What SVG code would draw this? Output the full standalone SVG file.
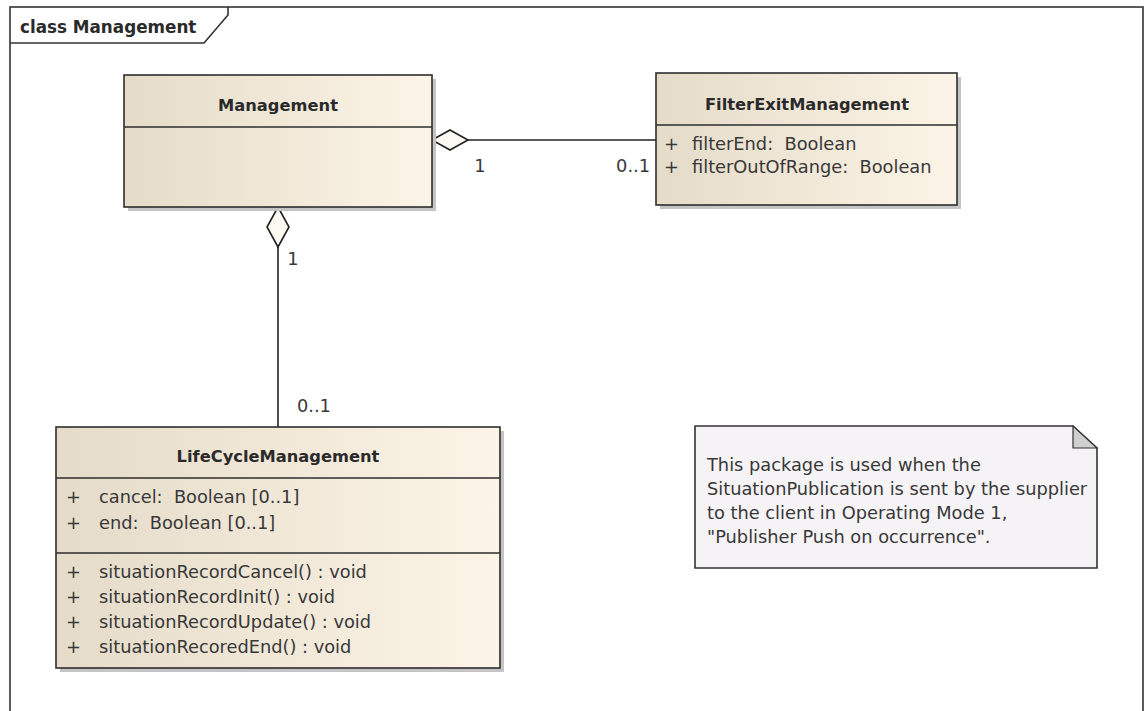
<svg xmlns="http://www.w3.org/2000/svg" width="1146" height="711" viewBox="0 0 1146 711">
<defs>
<linearGradient id="cls" x1="0" y1="0" x2="1" y2="0">
<stop offset="0" stop-color="#e5dbc9"/>
<stop offset="1" stop-color="#fcf4e6"/>
</linearGradient>
<style>
.box{fill:url(#cls);stroke:#2e2e2e;stroke-width:1.6}
.shadow{fill:#c4c4c4}
.sep{stroke:#2e2e2e;stroke-width:1.6}
.t{font-family:"DejaVu Sans",Verdana,sans-serif;font-size:17.8px;fill:#383838;white-space:pre}
.b{font-family:"DejaVu Sans",Verdana,sans-serif;font-size:16.3px;font-weight:bold;fill:#2a2a2a}
.c{text-anchor:middle}
.line{stroke:#222;stroke-width:1.6;fill:none}
.dia{fill:#fcf8f2;stroke:#222;stroke-width:1.6}
</style>
</defs>
<rect x="0" y="0" width="1146" height="711" fill="#ffffff"/>
<g id="frame">
<rect x="10" y="7" width="1133" height="710" fill="none" stroke="#333" stroke-width="1.6"/>
<path d="M10,43 H204 L228,15 V7" fill="none" stroke="#333" stroke-width="1.6"/>
<text x="20" y="33" class="b" style="font-size:16.8px">class Management</text>
</g>
<g id="connectors">
<line x1="468" y1="140" x2="656" y2="140" class="line"/>
<polygon points="432,140 450,130 468,140 450,150" class="dia"/>
<text x="480" y="172" class="t c">1</text>
<text x="650" y="172" class="t" text-anchor="end">0..1</text>
<line x1="278" y1="247" x2="278" y2="427" class="line"/>
<polygon points="278,207 289,227 278,247 267,227" class="dia"/>
<text x="293" y="265" class="t c">1</text>
<text x="297" y="412" class="t">0..1</text>
</g>
<g id="management">
<rect x="128" y="79" width="308" height="132" class="shadow"/>
<rect x="124" y="75" width="308" height="132" class="box"/>
<line x1="124" y1="127" x2="432" y2="127" class="sep"/>
<text x="278" y="111" class="b c">Management</text>
</g>
<g id="filterExitManagement">
<rect x="660" y="77" width="301" height="132" class="shadow"/>
<rect x="656" y="73" width="301" height="132" class="box"/>
<line x1="656" y1="125" x2="957" y2="125" class="sep"/>
<text x="807" y="110" class="b c">FilterExitManagement</text>
<text x="664" y="150" class="t">+</text>
<text x="692" y="150" class="t">filterEnd:  Boolean</text>
<text x="664" y="173" class="t">+</text>
<text x="692" y="173" class="t">filterOutOfRange:  Boolean</text>
</g>
<g id="lifeCycleManagement">
<rect x="60" y="431" width="444" height="241" class="shadow"/>
<rect x="56" y="427" width="444" height="241" class="box"/>
<line x1="56" y1="478" x2="500" y2="478" class="sep"/>
<line x1="56" y1="553" x2="500" y2="553" class="sep"/>
<text x="278" y="462" class="b c">LifeCycleManagement</text>
<text x="66" y="503" class="t">+</text>
<text x="99" y="503" class="t">cancel:  Boolean [0..1]</text>
<text x="66" y="529" class="t">+</text>
<text x="99" y="529" class="t">end:  Boolean [0..1]</text>
<text x="66" y="578" class="t">+</text>
<text x="99" y="578" class="t">situationRecordCancel() : void</text>
<text x="66" y="603" class="t">+</text>
<text x="99" y="603" class="t">situationRecordInit() : void</text>
<text x="66" y="628" class="t">+</text>
<text x="99" y="628" class="t">situationRecordUpdate() : void</text>
<text x="66" y="653" class="t">+</text>
<text x="99" y="653" class="t">situationRecoredEnd() : void</text>
</g>
<g id="note">
<path d="M695,426 H1073 L1097,448 V568 H695 Z" fill="#f5f3f5" stroke="#333" stroke-width="1.6"/>
<path d="M1073,426 V448 H1097 Z" fill="#cfcfcf" stroke="#333" stroke-width="1.2"/>
<text class="t" x="707" y="471">This package is used when the</text>
<text class="t" x="707" y="495">SituationPublication is sent by the supplier</text>
<text class="t" x="707" y="519">to the client in Operating Mode 1,</text>
<text class="t" x="707" y="543">"Publisher Push on occurrence".</text>
</g>
</svg>
